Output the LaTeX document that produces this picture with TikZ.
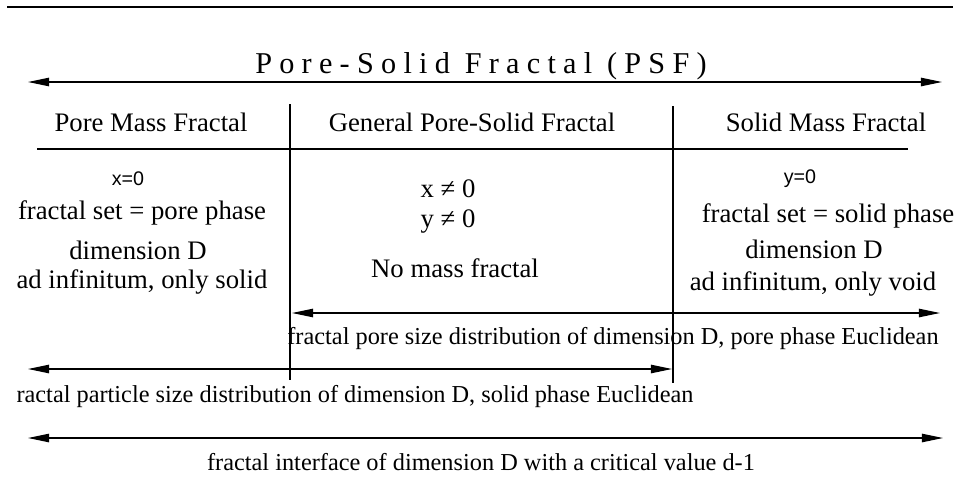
\documentclass[tikz,border=0pt]{standalone}
\usepackage{fontspec}
\setmainfont{Liberation Serif}
\setsansfont{Liberation Sans}
\usetikzlibrary{arrows.meta}

\tikzset{
  txt/.style={inner sep=0pt, anchor=base, font=\fontsize{19}{22}\selectfont},
  lbl/.style={inner sep=0pt, anchor=base, font=\fontsize{17.3}{20}\selectfont},
  cond/.style={inner sep=0pt, anchor=base, font=\sffamily\fontsize{14}{16}\selectfont},
  rule/.style={line width=0.8pt},
  span/.style={{Triangle[length=15pt,width=6pt]}-{Triangle[length=15pt,width=6pt]}, line width=0.8pt},
}

\begin{document}
\begin{tikzpicture}[x=0.025cm, y=-0.025cm]
  \useasboundingbox (0,0) rectangle (960,494);
  % frame lines
  \draw[rule] (7,7) -- (953,7);
  \draw[rule] (37,149) -- (908,149);
  \draw[rule] (290,104) -- (290,380);
  \draw[rule] (673,106) -- (673,383);

  % title
  \node[txt, font=\fontsize{21.5}{26}\selectfont\addfontfeature{LetterSpace=24}] (title) at (481,73) {Pore-Solid Fractal (PSF)};
  \coordinate (psfL) at (28,82);
  \coordinate (psfR) at (942,82);
  \draw[span] (psfL) -- (psfR);

  % column heads
  \node[txt] (pmf) at (151,131) {Pore Mass Fractal};
  \node[txt] (gpsf) at (472,131) {General Pore-Solid Fractal};
  \node[txt] (smf) at (826,131) {Solid Mass Fractal};

  % pore mass fractal
  \node[cond] (x0) at (128,185) {x=0};
  \node[txt] (pset) at (142,219) {fractal set = pore phase};
  \node[txt] (pdim) at (138,259) {dimension D};
  \node[txt] (pinf) at (142,288) {ad infinitum, only solid};

  % general
  \node[txt] (xne) at (448,197) {x ≠ 0};
  \node[txt] (yne) at (448,227) {y ≠ 0};
  \node[txt] (nomass) at (455,277) {No mass fractal};

  % solid mass fractal
  \node[cond] (y0) at (800,183) {y=0};
  \node[txt] (sset) at (828,222) {fractal set = solid phase};
  \node[txt] (sdim) at (814,258) {dimension D};
  \node[txt] (sinf) at (813,290) {ad infinitum, only void};

  % distributions
  \coordinate (poreL) at (292,313);
  \coordinate (poreR) at (940,313);
  \draw[span] (poreL) -- (poreR);
  \node[lbl] (pore) at (613,344) {fractal pore size distribution of dimension D, pore phase Euclidean};

  \coordinate (partL) at (28,369);
  \coordinate (partR) at (672,369);
  \draw[span] (partL) -- (partR);
  \node[lbl] (part) at (355,402) {ractal particle size distribution of dimension D, solid phase Euclidean};

  \coordinate (intL) at (28,438);
  \coordinate (intR) at (943,438);
  \draw[span] (intL) -- (intR);
  \node[lbl] (inter) at (481,470) {fractal interface of dimension D with a critical value d-1};
\end{tikzpicture}
\end{document}
